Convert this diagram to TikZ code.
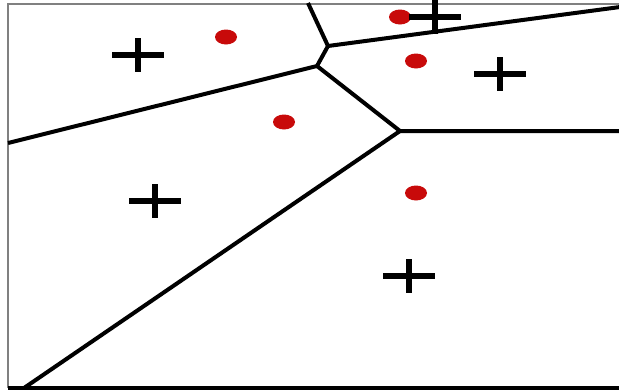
\documentclass[tikz,border=0pt]{standalone}
\begin{document}
\begin{tikzpicture}[x=1pt,y=-1pt,
  edge/.style={line width=4pt,black},
  seed/.style={fill={rgb,255:red,200;green,10;blue,10}},
  plusmark/.style={line width=6pt,black}]
\useasboundingbox (0,0) rectangle (619,391);
\fill[white] (0,0) rectangle (619,391);
% frame
\draw[line width=2pt,gray] (8,388) -- (8,4) -- (619,4);
\draw[line width=4pt,black] (8,388) -- (619,388);
% vertices
\coordinate (A) at (328,46);
\coordinate (B) at (317,66);
\coordinate (C) at (400,131);
\coordinate (T) at (308,3);
\coordinate (R1) at (620,7);
\coordinate (L) at (8,143);
\coordinate (R2) at (620,131);
\coordinate (D) at (24,388);
\draw[edge,line join=round] (T) -- (A) -- (R1);
\draw[edge,line join=round] (A) -- (B) -- (L);
\draw[edge,line join=round] (B) -- (C) -- (R2);
\draw[edge] (C) -- (D);
% seeds
\foreach \p in {(226,37),(400,17),(416,61),(284,122),(416,193)}
  \fill[seed] \p ellipse (11 and 7.5);
% plus marks
\foreach \x/\y in {138/55,435/17,500/74,155/201,409/276}{
  \draw[plusmark] (\x-26,\y) -- (\x+26,\y);
  \draw[plusmark] (\x,\y-17) -- (\x,\y+17);
}
\end{tikzpicture}
\end{document}
